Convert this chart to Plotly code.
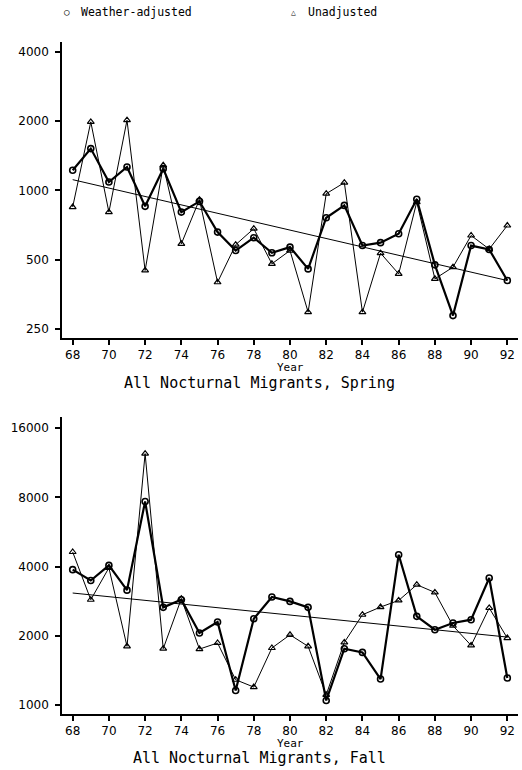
import plotly.graph_objects as go
import math

years = list(range(1968, 1993))
tick_years = list(range(1968, 1993, 2))
tick_text = [str(y % 100) for y in tick_years]

spring_weather = [1223, 1520, 1087, 1264, 852, 1243, 804, 895, 658, 547, 622, 535, 566,
                  455, 760, 860, 575, 592, 647, 914, 474, 285, 575, 553, 405]
spring_unadj = [846, 1986, 804, 2020, 448, 1285, 585, 911, 398, 580, 681, 479, 547,
                295, 967, 1080, 295, 533, 433, 889, 412, 463, 636, 555, 703]
spring_trend_years = [1968, 1992]
spring_trend = [1113, 405]

fall_weather = [3880, 3480, 4048, 3160, 7680, 2660, 2870, 2056, 2297, 1157, 2374, 2950, 2823,
                2660, 1047, 1758, 1694, 1297, 4506, 2430, 2126, 2274, 2350, 3567, 1311]
fall_unadj = [4630, 2870, 3950, 1800, 12400, 1758, 2900, 1751, 1861, 1288, 1197, 1770, 2020,
              1800, 1108, 1873, 2470, 2668, 2850, 3336, 3088, 2212, 1816, 2643, 1955]
fall_trend_years = [1968, 1992]
fall_trend = [3070, 1975]

spring_ticks = [250, 500, 1000, 2000, 4000]
fall_ticks = [1000, 2000, 4000, 8000, 16000]

fig = go.Figure()


def add_panel(xa, ya, weather, unadj, ty, tv):
    fig.add_trace(go.Scatter(x=ty, y=tv, mode="lines", xaxis=xa, yaxis=ya,
                             line=dict(color="black", width=1), showlegend=False,
                             hoverinfo="skip"))
    fig.add_trace(go.Scatter(x=years, y=unadj, mode="lines+markers", xaxis=xa, yaxis=ya,
                             line=dict(color="black", width=1),
                             marker=dict(symbol="triangle-up-open", size=6,
                                         color="black", line=dict(width=1.2)),
                             showlegend=False, name="Unadjusted"))
    fig.add_trace(go.Scatter(x=years, y=weather, mode="lines+markers", xaxis=xa, yaxis=ya,
                             line=dict(color="black", width=2.2),
                             marker=dict(symbol="circle-open", size=6,
                                         color="black", line=dict(width=1.6)),
                             showlegend=False, name="Weather-adjusted"))


add_panel("x", "y", spring_weather, spring_unadj, spring_trend_years, spring_trend)
add_panel("x2", "y2", fall_weather, fall_unadj, fall_trend_years, fall_trend)

tickfont = dict(family="DejaVu Sans", size=12, color="black")
xcommon = dict(range=[1967.41, 1992.59], tickvals=tick_years, ticktext=tick_text,
               showline=True, linecolor="black", linewidth=1.5, ticks="outside",
               ticklen=5, tickwidth=1.5, tickcolor="black", showgrid=False,
               zeroline=False, tickfont=tickfont)
ycommon = dict(type="log", showline=True, linecolor="black", linewidth=1.5,
               ticks="outside", ticklen=5, tickwidth=1.5, tickcolor="black",
               showgrid=False, zeroline=False, tickfont=tickfont, ticklabelstandoff=4)

fig.update_layout(
    width=522, height=770,
    margin=dict(l=62, r=4, t=42, b=56),
    paper_bgcolor="white", plot_bgcolor="white",
    xaxis=dict(domain=[0, 1], anchor="y", **xcommon),
    yaxis=dict(domain=[0.5595, 1], anchor="x",
               range=[math.log10(227.6), math.log10(4424)],
               tickvals=spring_ticks, ticktext=[str(t) for t in spring_ticks], **ycommon),
    xaxis2=dict(domain=[0, 1], anchor="y2", **xcommon),
    yaxis2=dict(domain=[0, 0.442], anchor="x2",
                range=[math.log10(914), math.log10(17900)],
                tickvals=fall_ticks, ticktext=[str(t) for t in fall_ticks], **ycommon),
    showlegend=False,
)

mono = "DejaVu Sans Mono"


def px_to_paper_x(px):
    return (px - 62) / (522 - 62 - 4)


def px_to_paper_y(py):
    return 1 - (py - 42) / (770 - 42 - 56)


annotations = [
    dict(text="○", x=px_to_paper_x(66.7), y=px_to_paper_y(12.5), font=dict(family=mono, size=9)),
    dict(text="Weather-adjusted", x=px_to_paper_x(79), y=px_to_paper_y(12.5), xanchor="left",
         font=dict(family=mono, size=11.5)),
    dict(text="△", x=px_to_paper_x(293), y=px_to_paper_y(12.5), font=dict(family=mono, size=8)),
    dict(text="Unadjusted", x=px_to_paper_x(306), y=px_to_paper_y(12.5), xanchor="left",
         font=dict(family=mono, size=11.5)),
    dict(text="Year", x=px_to_paper_x(290.7), y=px_to_paper_y(367.5), font=dict(family=mono, size=11)),
    dict(text="All Nocturnal Migrants, Spring", x=px_to_paper_x(259), y=px_to_paper_y(382.5),
         font=dict(family=mono, size=15)),
    dict(text="Year", x=px_to_paper_x(290.7), y=px_to_paper_y(743.5), font=dict(family=mono, size=11)),
    dict(text="All Nocturnal Migrants, Fall", x=px_to_paper_x(259), y=px_to_paper_y(757.5),
         font=dict(family=mono, size=15)),
]
for a in annotations:
    a.setdefault("xanchor", "center")
    a["yanchor"] = "middle"
    a["xref"] = "paper"
    a["yref"] = "paper"
    a["showarrow"] = False
    a["font"]["color"] = "black"
fig.update_layout(annotations=annotations)

fig.write_html("out.html")
